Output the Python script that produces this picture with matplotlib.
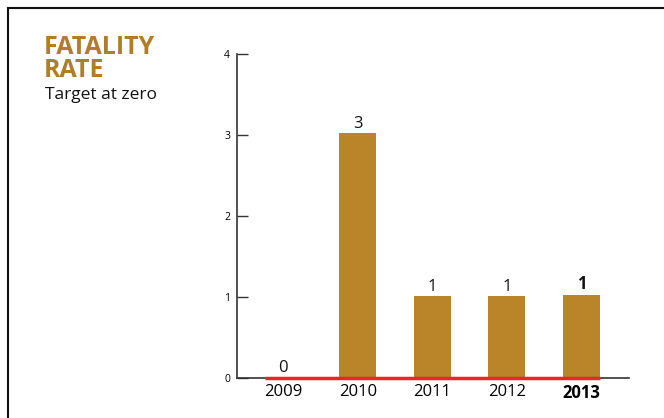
# Fatality rate bar chart, target at zero
import matplotlib.pyplot as plt
from matplotlib.lines import Line2D

years = ["2009", "2010", "2011", "2012", "2013"]
fatalities = [0, 3.02, 1.01, 1.01, 1.03]
value_labels = ["0", "3", "1", "1", "1"]
yticks = [0, 1, 2, 3, 4]

gold = "#BA8428"
plt.rcParams["font.family"] = ["Open Sans", "DejaVu Sans"]

fig = plt.figure(figsize=(6.64, 4.18), dpi=100)
ax = fig.add_axes([237 / 664, 1 - 378 / 418, (629 - 237) / 664, (378 - 54) / 418])

x = list(range(len(years)))
ax.bar(x, fatalities, width=0.5, color=gold, edgecolor="none", zorder=2)

# target line at zero
ax.plot([-0.25, len(years) - 0.75], [0, 0], color="#E8262B", lw=2.5,
        solid_capstyle="butt", zorder=3, clip_on=False)

for i, (v, lab) in enumerate(zip(fatalities, value_labels)):
    ax.text(i, v + 0.02, lab, ha="center", va="bottom", fontsize=12,
            fontweight="bold" if i == len(years) - 1 else "normal", color="#111")

ax.set_xlim(-0.62, 4.64)
ax.set_ylim(0, 4)
ax.set_yticks(yticks)
ax.set_yticklabels([str(t) for t in yticks], fontsize=7.5)
ax.set_xticks(x)
ax.set_xticklabels(years, fontsize=12)
ax.get_xticklabels()[-1].set_fontweight("bold")
ax.tick_params(axis="y", direction="in", length=8, width=1, pad=5, color="#333")
ax.tick_params(axis="x", length=0, pad=4)
ax.spines[["top", "right"]].set_visible(False)
for s in ["left", "bottom"]:
    ax.spines[s].set_color("#333")
    ax.spines[s].set_linewidth(1.2)

fig.text(44 / 664, 1 - 35 / 418, "FATALITY\nRATE", ha="left", va="top",
         fontsize=18, fontweight="bold", color="#B07D28", linespacing=0.88)
fig.text(45 / 664, 1 - 95 / 418, "Target at zero", ha="left", va="center",
         fontsize=12.5, color="#111")

# frame lines top and left
fig.add_artist(Line2D([8 / 664, 1], [1 - 8 / 418, 1 - 8 / 418], color="#111", lw=1.5,
                      transform=fig.transFigure))
fig.add_artist(Line2D([8 / 664, 8 / 664], [0, 1 - 8 / 418], color="#111", lw=1.5,
                      transform=fig.transFigure))

plt.savefig("out.png", dpi=100)
